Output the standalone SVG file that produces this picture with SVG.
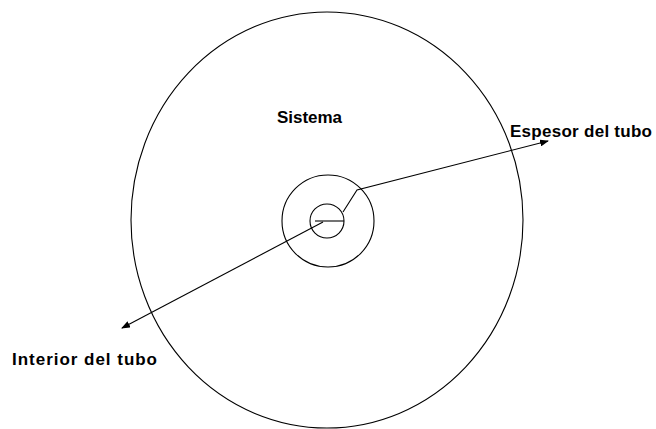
<svg xmlns="http://www.w3.org/2000/svg" width="656" height="429" viewBox="0 0 656 429">
<defs>
<style>
.ln{fill:none;stroke:#000;stroke-width:1.1}
.lb{font-family:"Liberation Sans",Arial,sans-serif;font-weight:bold;font-size:17px;fill:#000}
</style>
<marker id="ah" markerWidth="9" markerHeight="7" refX="8" refY="3.5" orient="auto" markerUnits="userSpaceOnUse">
<path d="M0,0 L9,3.5 L0,7 Z" fill="#000"/>
</marker>
</defs>
<rect width="656" height="429" fill="#fff"/>
<g id="sistema">
<ellipse class="ln" cx="327" cy="220" rx="196" ry="208"/>
<text class="lb" x="277" y="123" textLength="65">Sistema</text>
</g>
<g id="tubo-exterior">
<circle class="ln" cx="328" cy="221" r="46"/>
</g>
<g id="tubo-interior">
<circle class="ln" cx="327" cy="221" r="17"/>
</g>
<g id="label-espesor">
<text class="lb" x="510" y="137" textLength="142">Espesor del tubo</text>
</g>
<g id="label-interior">
<text class="lb" x="12" y="365" textLength="145">Interior del tubo</text>
</g>
<g id="connectors">
<line class="ln" x1="315" y1="221" x2="344" y2="221"/>
<polyline class="ln" points="343,212 357,190 548,141" marker-end="url(#ah)"/>
<line class="ln" x1="323" y1="222" x2="122" y2="328" marker-end="url(#ah)"/>
</g>
</svg>
